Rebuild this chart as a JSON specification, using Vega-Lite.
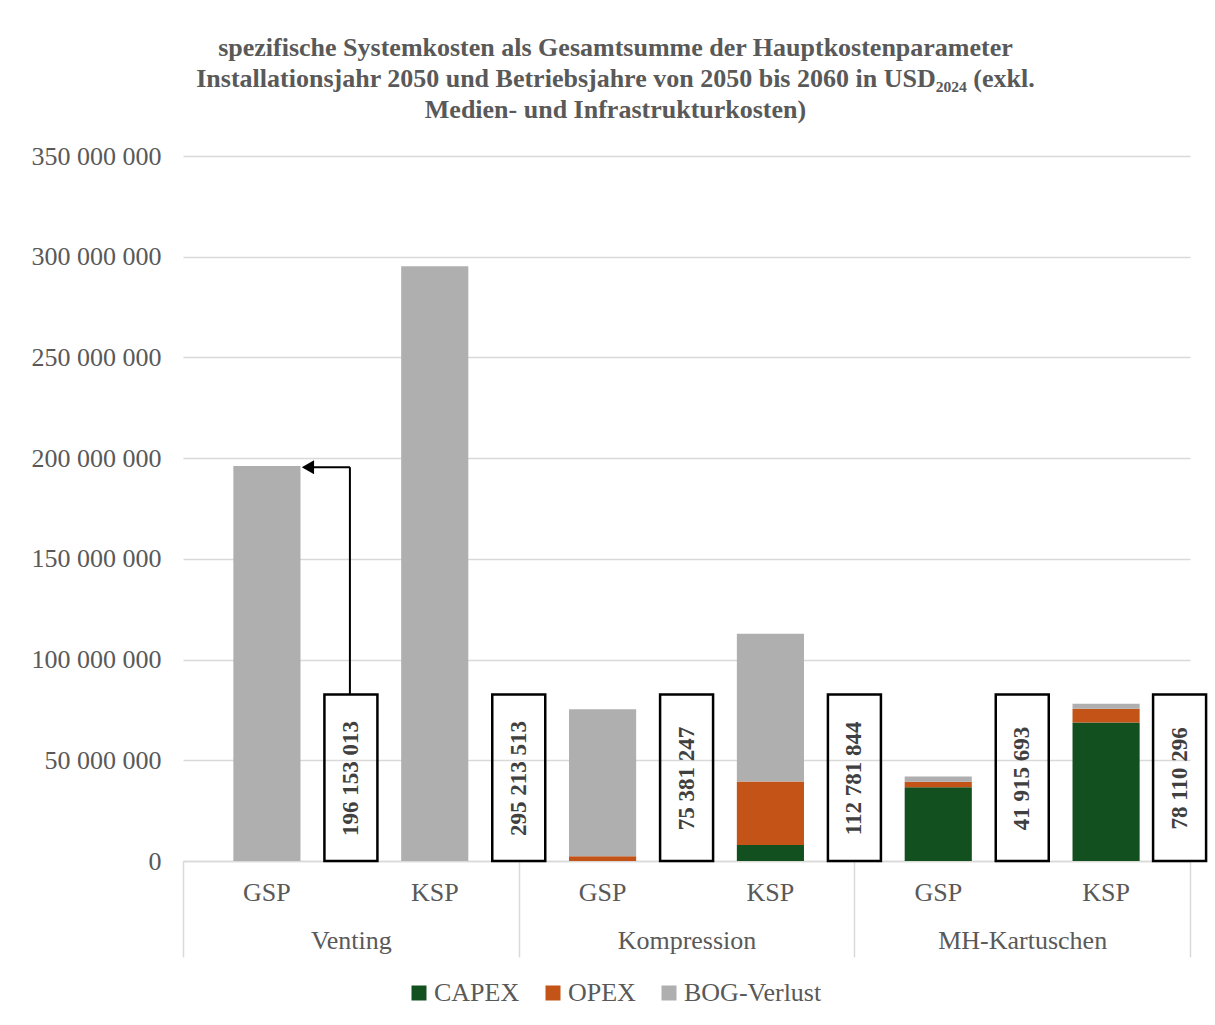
{
  "$schema": "https://vega.github.io/schema/vega-lite/v6.json",
  "width": 1007,
  "height": 705,
  "autosize": {"type": "none"},
  "padding": {"left": 183, "top": 156, "right": 25, "bottom": 164},
  "background": "white",
  "title": {
    "text": [
      "spezifische Systemkosten als Gesamtsumme der Hauptkostenparameter",
      "Installationsjahr 2050 und Betriebsjahre von 2050 bis 2060 in USD₂₀₂₄ (exkl.",
      "Medien- und Infrastrukturkosten)"
    ],
    "font": "Liberation Serif",
    "fontSize": 26,
    "fontWeight": "bold",
    "color": "#595959",
    "anchor": "middle",
    "dx": -71,
    "offset": 20,
    "lineHeight": 31
  },
  "datasets": {
    "bars": [
      {"cat": "Venting GSP", "group": "Venting", "kind": "BOG-Verlust", "value": 196153013},
      {"cat": "Venting KSP", "group": "Venting", "kind": "BOG-Verlust", "value": 295213513},
      {"cat": "Kompression GSP", "group": "Kompression", "kind": "OPEX", "value": 2300000},
      {"cat": "Kompression GSP", "group": "Kompression", "kind": "BOG-Verlust", "value": 73081247},
      {"cat": "Kompression KSP", "group": "Kompression", "kind": "CAPEX", "value": 8000000},
      {"cat": "Kompression KSP", "group": "Kompression", "kind": "OPEX", "value": 31500000},
      {"cat": "Kompression KSP", "group": "Kompression", "kind": "BOG-Verlust", "value": 73281844},
      {"cat": "MH-Kartuschen GSP", "group": "MH-Kartuschen", "kind": "CAPEX", "value": 36600000},
      {"cat": "MH-Kartuschen GSP", "group": "MH-Kartuschen", "kind": "OPEX", "value": 2800000},
      {"cat": "MH-Kartuschen GSP", "group": "MH-Kartuschen", "kind": "BOG-Verlust", "value": 2515693},
      {"cat": "MH-Kartuschen KSP", "group": "MH-Kartuschen", "kind": "CAPEX", "value": 68700000},
      {"cat": "MH-Kartuschen KSP", "group": "MH-Kartuschen", "kind": "OPEX", "value": 6900000},
      {"cat": "MH-Kartuschen KSP", "group": "MH-Kartuschen", "kind": "BOG-Verlust", "value": 2510296}
    ],
    "totals": [
      {"cat": "Venting GSP", "group": "Venting", "total": 196153013},
      {"cat": "Venting KSP", "group": "Venting", "total": 295213513},
      {"cat": "Kompression GSP", "group": "Kompression", "total": 75381247},
      {"cat": "Kompression KSP", "group": "Kompression", "total": 112781844},
      {"cat": "MH-Kartuschen GSP", "group": "MH-Kartuschen", "total": 41915693},
      {"cat": "MH-Kartuschen KSP", "group": "MH-Kartuschen", "total": 78110296}
    ]
  },
  "layer": [
    {
      "encoding": {
        "x": {
          "field": "cat",
          "type": "nominal",
          "scale": {
            "domain": ["Venting GSP", "Venting KSP", "Kompression GSP", "Kompression KSP", "MH-Kartuschen GSP", "MH-Kartuschen KSP"],
            "paddingInner": 0,
            "paddingOuter": 0
          },
          "axis": {
            "title": null,
            "orient": "bottom",
            "labelExpr": "split(datum.label, ' ')[1]",
            "labelAngle": 0,
            "ticks": false,
            "domain": true,
            "domainColor": "#d9d9d9",
            "domainWidth": 1.5,
            "labelPadding": 18,
            "labelFont": "Liberation Serif",
            "labelFontSize": 26,
            "labelColor": "#595959",
            "grid": false
          }
        }
      },
      "layer": [
        {
          "data": {"name": "bars"},
          "transform": [{"calculate": "indexof(['CAPEX', 'OPEX', 'BOG-Verlust'], datum.kind)", "as": "stack_rank"}],
          "mark": {"type": "bar", "width": {"band": 0.4}},
          "encoding": {
            "y": {
              "field": "value",
              "type": "quantitative",
              "stack": "zero",
              "scale": {"domain": [0, 350000000], "nice": false},
              "axis": {
                "title": null,
                "values": [0, 50000000, 100000000, 150000000, 200000000, 250000000, 300000000, 350000000],
                "format": ",d",
                "grid": true,
                "gridColor": "#d9d9d9",
                "gridWidth": 1.5,
                "domain": false,
                "ticks": false,
                "labelPadding": 22,
                "labelFont": "Liberation Serif",
                "labelFontSize": 26,
                "labelColor": "#595959"
              }
            },
            "order": {"field": "stack_rank", "type": "quantitative", "sort": "ascending"},
            "color": {
              "field": "kind",
              "type": "nominal",
              "sort": ["CAPEX", "OPEX", "BOG-Verlust"],
              "scale": {"domain": ["CAPEX", "OPEX", "BOG-Verlust"], "range": ["#13501F", "#C35317", "#AFAFAF"]},
              "legend": {
                "title": null,
                "orient": "none",
                "legendX": 223,
                "legendY": 824,
                "direction": "horizontal",
                "columns": 3,
                "symbolType": "square",
                "symbolSize": 225,
                "symbolStrokeWidth": 0,
                "labelFont": "Liberation Serif",
                "labelFontSize": 26,
                "labelColor": "#595959",
                "labelOffset": 2,
                "columnPadding": 20
              }
            }
          }
        },
        {
          "data": {"name": "totals"},
          "transform": [{"filter": "datum.cat !== 'MH-Kartuschen KSP'"}],
          "mark": {"type": "bar", "xOffset": 84, "width": 53, "fillOpacity": 0, "fill": "white", "stroke": "black", "strokeWidth": 2.5},
          "encoding": {
            "y": {"datum": 82700000, "type": "quantitative"},
            "y2": {"datum": 0}
          }
        },
        {
          "data": {"name": "totals"},
          "transform": [{"filter": "datum.cat === 'MH-Kartuschen KSP'"}],
          "mark": {"type": "bar", "xOffset": 73.5, "width": 53, "fillOpacity": 0, "fill": "white", "stroke": "black", "strokeWidth": 2.5},
          "encoding": {
            "y": {"datum": 82700000, "type": "quantitative"},
            "y2": {"datum": 0}
          }
        },
        {
          "data": {"name": "totals"},
          "transform": [{"filter": "datum.cat !== 'MH-Kartuschen KSP'"}],
          "mark": {"type": "text", "angle": 270, "xOffset": 84, "align": "center", "baseline": "middle", "font": "Liberation Serif", "fontSize": 23, "fontWeight": "bold", "color": "#404040"},
          "encoding": {
            "y": {"datum": 41000000, "type": "quantitative"},
            "text": {"field": "total", "type": "quantitative", "format": ",d"}
          }
        },
        {
          "data": {"name": "totals"},
          "transform": [{"filter": "datum.cat === 'MH-Kartuschen KSP'"}],
          "mark": {"type": "text", "angle": 270, "xOffset": 73.5, "align": "center", "baseline": "middle", "font": "Liberation Serif", "fontSize": 23, "fontWeight": "bold", "color": "#404040"},
          "encoding": {
            "y": {"datum": 41000000, "type": "quantitative"},
            "text": {"field": "total", "type": "quantitative", "format": ",d"}
          }
        },
        {
          "data": {"name": "totals"},
          "transform": [{"filter": "datum.cat === 'Venting GSP'"}],
          "mark": {"type": "rule", "xOffset": 83, "strokeWidth": 2, "color": "black"},
          "encoding": {
            "y": {"datum": 82700000, "type": "quantitative"},
            "y2": {"datum": 195500000}
          }
        },
        {
          "data": {"name": "totals"},
          "transform": [{"filter": "datum.cat === 'Venting GSP'"}],
          "mark": {"type": "tick", "xOffset": 60, "size": 46, "thickness": 2, "color": "black", "opacity": 1, "orient": "horizontal"},
          "encoding": {
            "y": {"datum": 195500000, "type": "quantitative"}
          }
        },
        {
          "data": {"name": "totals"},
          "transform": [{"filter": "datum.cat === 'Venting GSP'"}],
          "mark": {"type": "point", "shape": "triangle-left", "size": 200, "filled": true, "color": "black", "opacity": 1, "xOffset": 41},
          "encoding": {
            "y": {"datum": 195500000, "type": "quantitative"}
          }
        }
      ]
    },
    {
      "data": {"name": "totals"},
      "mark": {"type": "bar", "opacity": 0},
      "encoding": {
        "x": {
          "field": "group",
          "type": "nominal",
          "scale": {"domain": ["Venting", "Kompression", "MH-Kartuschen"], "paddingInner": 0, "paddingOuter": 0},
          "axis": {
            "title": null,
            "orient": "bottom",
            "labelAngle": 0,
            "domain": false,
            "grid": false,
            "ticks": true,
            "tickBand": "extent",
            "tickSize": 96,
            "tickColor": "#d9d9d9",
            "tickWidth": 1.5,
            "labelPadding": -30,
            "labelFont": "Liberation Serif",
            "labelFontSize": 26,
            "labelColor": "#595959"
          }
        }
      }
    }
  ],
  "resolve": {"scale": {"x": "independent"}},
  "config": {
    "view": {"stroke": null},
    "font": "Liberation Serif",
    "locale": {"number": {"decimal": ",", "thousands": " ", "grouping": [3], "currency": ["", " $"]}}
  }
}
